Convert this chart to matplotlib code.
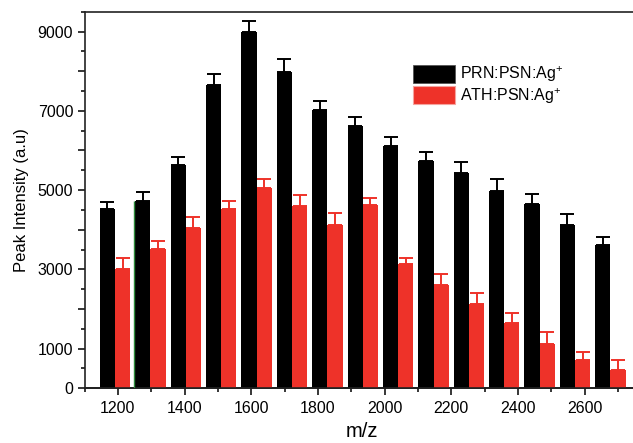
import matplotlib
matplotlib.use("Agg")
import matplotlib.pyplot as plt
import numpy as np
from matplotlib.ticker import MultipleLocator, FixedLocator
from matplotlib.patches import Patch

plt.rcParams['font.family'] = ['Liberation Sans', 'DejaVu Sans']
plt.rcParams['mathtext.fontset'] = 'custom'
plt.rcParams['mathtext.rm'] = 'Liberation Sans'
plt.rcParams['mathtext.it'] = 'Liberation Sans:italic'

# ---- data ----
mz = [1200, 1300, 1400, 1500, 1600, 1700, 1800, 1900, 2000, 2100, 2200, 2300, 2400, 2500, 2600]
prn = [4525, 4727, 5628, 7663, 8993, 7991, 7032, 6613, 6123, 5729, 5427, 4988, 4652, 4122, 3617]
prn_err = [185, 230, 200, 278, 278, 320, 227, 227, 212, 227, 293, 295, 260, 277, 210]
ath = [3003, 3516, 4038, 4518, 5048, 4609, 4122, 4619, 3130, 2615, 2135, 1648, 1126, 714, 462]
ath_err = [293, 202, 278, 202, 242, 278, 300, 192, 166, 278, 278, 261, 287, 195, 252]
x_ticks = [1200, 1400, 1600, 1800, 2000, 2200, 2400, 2600]
y_ticks = [0, 1000, 2000, 3000, 4000, 5000, 6000, 7000, 8000, 9000]
y_ticklabels = ['0', '1000', '', '3000', '', '5000', '', '7000', '', '9000']
labels = [r'PRN:PSN:Ag$^{+}$', r'ATH:PSN:Ag$^{+}$']

BLACK = '#000000'
RED = '#ee3229'

W, H = 633, 443
fig = plt.figure(figsize=(W / 100, H / 100), dpi=100)
left_px, right_px, top_px, bot_px = 84.6, 640, 11.7, 388.3
ax = fig.add_axes([left_px / W, 1 - bot_px / H, (right_px - left_px) / W, (bot_px - top_px) / H])

# bar positions: category index
idx = np.arange(len(mz))
bw = 0.43
ax.bar(idx - bw / 2, prn, width=bw, color=BLACK, zorder=2)
ax.bar(idx + bw / 2, ath, width=bw, color=RED, zorder=2)
ax.errorbar(idx - bw / 2, prn, yerr=[np.zeros(len(prn)), prn_err], fmt='none',
            ecolor=BLACK, elinewidth=1.4, capsize=5.0, capthick=1.4, zorder=3)
ax.errorbar(idx + bw / 2, ath, yerr=[np.zeros(len(ath)), ath_err], fmt='none',
            ecolor=RED, elinewidth=1.4, capsize=5.0, capthick=1.4, zorder=3)
# small green edge artifact on second black bar
ax.vlines(idx[1] - bw - 0.03, 0, prn[1], color='#2e8b3c', lw=1.0, zorder=3)

# index <-> m/z mapping of the axis scale
a0, a1 = 1191.5, 106.14
ax.set_xlim((1100 - a0) / a1, (1100 + (right_px - left_px) * 3 - a0) / a1)
ax.set_ylim(0, 9500)

ax.tick_params(axis='x', which='both', bottom=False, labelbottom=False)
sec = ax.secondary_xaxis('bottom', functions=(lambda i: a0 + a1 * i, lambda m: (m - a0) / a1))
sec.xaxis.set_major_locator(FixedLocator(x_ticks))
sec.xaxis.set_minor_locator(MultipleLocator(100))
sec.tick_params(axis='x', which='major', direction='out', length=5.2, width=1.1, pad=4, labelsize=11.5)
sec.tick_params(axis='x', which='minor', direction='out', length=3.0, width=1.1)
sec.spines['bottom'].set_linewidth(1.2)
sec.set_xlabel('m/z', fontsize=14.5, labelpad=4.5)

ax.set_yticks(y_ticks)
ax.set_yticklabels(y_ticklabels)
ax.yaxis.set_minor_locator(MultipleLocator(500))
ax.tick_params(axis='y', which='major', direction='out', length=5.2, width=1.1, pad=3, labelsize=11.5)
ax.tick_params(axis='y', which='minor', direction='out', length=3.0, width=1.1)
ax.set_ylabel('Peak Intensity (a.u)', fontsize=12, labelpad=6)

for s in ['left', 'bottom', 'top', 'right']:
    ax.spines[s].set_linewidth(1.2)
    ax.spines[s].set_color('#222222')

handles = [Patch(facecolor=BLACK, edgecolor='#555555', lw=0.6),
           Patch(facecolor=RED, edgecolor='#f5a39e', lw=0.8)]
fig.legend(handles, labels, loc='upper left', bbox_to_anchor=(412.7 / W, 1 - 64.5 / H),
           frameon=False, fontsize=11.5, handlelength=2.66, handleheight=1.33,
           labelspacing=0.12, handletextpad=0.3, borderpad=0, borderaxespad=0)

fig.savefig('out.png', dpi=100)
